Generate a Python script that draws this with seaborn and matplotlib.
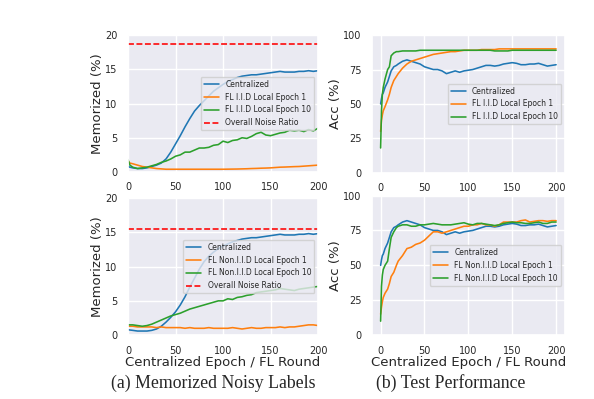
import numpy as np
import pandas as pd
import seaborn as sns
import matplotlib.pyplot as plt

mem_epochs = [0, 2, 5, 10, 15, 20, 25, 30, 35, 40, 45, 50, 55, 60, 65, 70, 75, 80, 85, 90, 95,
              100, 105, 110, 115, 120, 125, 130, 135, 140, 145, 150, 155, 160, 165, 170, 175,
              180, 185, 190, 195, 200]
acc_epochs = [0, 1, 2, 3, 5, 8, 10, 12, 15, 18, 20, 25, 30, 35, 40, 45, 50, 55, 60, 65, 70, 75,
              80, 85, 90, 95, 100, 105, 110, 115, 120, 125, 130, 135, 140, 145, 150, 155, 160,
              165, 170, 175, 180, 185, 190, 195, 200]

# --- memorized noisy labels (%) ---
mem_central_iid = [0.8, 0.7, 0.6, 0.5, 0.5, 0.6, 0.8, 1.0, 1.3, 1.9, 2.9, 4.1, 5.3, 6.6, 7.8, 8.9,
                   9.7, 10.4, 11.1, 11.8, 12.3, 12.8, 13.2, 13.5, 13.8, 14.0, 14.1, 14.2, 14.2,
                   14.3, 14.4, 14.5, 14.6, 14.7, 14.6, 14.6, 14.6, 14.7, 14.7, 14.8, 14.7, 14.8]
mem_fl1_iid = [1.6, 1.3, 1.2, 1.0, 0.8, 0.7, 0.6, 0.5, 0.45, 0.4, 0.4, 0.4, 0.4, 0.4, 0.4, 0.4,
               0.4, 0.4, 0.4, 0.4, 0.4, 0.4, 0.41, 0.42, 0.43, 0.45, 0.47, 0.5, 0.52, 0.55, 0.57,
               0.6, 0.65, 0.7, 0.72, 0.75, 0.78, 0.8, 0.85, 0.9, 0.95, 1.0]
mem_fl10_iid = [1.8, 1.0, 0.7, 0.5, 0.6, 0.7, 0.9, 1.1, 1.4, 1.6, 1.9, 2.3, 2.5, 2.9, 2.9, 3.2,
                3.5, 3.5, 3.6, 3.9, 4.0, 4.5, 4.3, 4.6, 4.7, 5.0, 4.9, 5.2, 5.6, 5.8, 5.4, 5.3,
                5.5, 5.7, 5.8, 6.1, 6.0, 6.1, 5.9, 6.2, 6.0, 6.4]
noise_ratio_iid = 18.7

mem_central_non = [0.8, 0.75, 0.7, 0.6, 0.6, 0.6, 0.7, 0.9, 1.3, 1.9, 2.6, 3.4, 4.4, 5.6, 7.0,
                   8.3, 9.6, 10.7, 11.5, 12.1, 12.6, 13.0, 13.3, 13.6, 13.8, 14.0, 14.1, 14.2,
                   14.2, 14.3, 14.4, 14.5, 14.6, 14.7, 14.6, 14.6, 14.6, 14.7, 14.7, 14.8, 14.7,
                   14.8]
mem_fl1_non = [1.3, 1.3, 1.3, 1.2, 1.2, 1.2, 1.2, 1.1, 1.2, 1.1, 1.1, 1.1, 1.1, 1.0, 1.1, 1.0,
               1.0, 1.0, 1.1, 1.0, 1.0, 1.0, 1.0, 1.1, 1.0, 0.9, 1.0, 1.1, 1.0, 1.0, 1.1, 1.1,
               1.1, 1.2, 1.1, 1.2, 1.2, 1.3, 1.4, 1.5, 1.5, 1.4]
mem_fl10_non = [1.5, 1.5, 1.5, 1.4, 1.3, 1.4, 1.6, 1.9, 2.2, 2.5, 2.8, 3.0, 3.2, 3.5, 3.8, 4.0,
                4.2, 4.4, 4.6, 4.8, 5.0, 5.0, 5.3, 5.2, 5.5, 5.6, 5.8, 5.9, 6.2, 6.3, 6.4, 6.5,
                6.6, 6.8, 6.7, 6.6, 6.5, 6.7, 6.8, 6.9, 7.0, 7.1]
noise_ratio_non = 15.4

# --- test accuracy (%) ---
acc_central = [50, 54, 57, 58, 62, 66, 70, 74, 77, 78, 79, 81, 82, 81, 80, 79, 77, 76, 75, 75, 74,
               72, 73, 74, 73, 74, 74.5, 75, 76, 77, 78, 78, 77.5, 78, 79, 79.5, 80, 79.5, 78.5,
               78.5, 79, 79, 79.5, 78.5, 77.5, 78, 78.5]
acc_fl1_iid = [30, 38, 42, 45, 48, 53, 57, 62, 67, 70, 72, 76, 79, 81, 82, 83, 84, 85, 86, 86.5,
               87, 87.5, 88, 88, 88.5, 89, 89, 89, 89, 89.5, 89.5, 89.5, 89.5, 90, 90, 90, 90, 90,
               90, 90, 90, 90, 90, 90, 90, 90, 90]
acc_fl10_iid = [18, 45, 57, 62, 68, 75, 77, 85, 87, 88, 88, 88.5, 88.5, 88.5, 88.5, 89, 89, 89,
                89, 89, 89, 89, 89, 89, 89, 89, 89, 89, 89, 89, 89, 89, 88.5, 88.5, 88.5, 88.5,
                89, 89, 89, 89, 89, 89, 89, 89, 89, 89, 89]
acc_fl1_non = [15, 20, 24, 27, 30, 33, 37, 42, 45, 50, 53, 57, 62, 63, 65, 66, 68, 71, 74, 74, 73,
               74, 75, 76, 77, 78, 78, 79, 79, 80, 79, 79, 78, 79, 81, 81, 81, 81, 82, 82.5, 81,
               81.5, 82, 82, 81.5, 82, 82]
acc_fl10_non = [10, 35, 43, 47, 50, 53, 62, 70, 74, 77, 78, 79, 79, 78, 78, 79, 79, 79.5, 80, 79.5,
                79, 79, 79, 79.5, 80, 80.5, 79.5, 79, 80, 80, 79.5, 79, 78.5, 79, 80, 80.5, 81,
                80.5, 80.5, 80, 80, 80.5, 81, 80, 80, 81, 81]

sns.set_theme(style="darkgrid")
plt.rcParams['font.family'] = ['DejaVu Sans']

blue, orange, green = '#1f77b4', '#ff7f0e', '#2ca02c'
lw = 1.15

fig = plt.figure(figsize=(5.94, 3.99), dpi=100)
ax_tl = fig.add_axes([0.2155, 0.569, 0.32, 0.343])
ax_tr = fig.add_axes([0.626, 0.567, 0.325, 0.345])
ax_bl = fig.add_axes([0.2155, 0.160, 0.32, 0.344])
ax_br = fig.add_axes([0.626, 0.160, 0.325, 0.350])


def mem_panel(ax, central, fl1, fl10, noise, tag):
    sns.lineplot(x=mem_epochs, y=central, ax=ax, color=blue, lw=lw, label='Centralized')
    sns.lineplot(x=mem_epochs, y=fl1, ax=ax, color=orange, lw=lw, label=f'FL {tag} Local Epoch 1')
    sns.lineplot(x=mem_epochs, y=fl10, ax=ax, color=green, lw=lw, label=f'FL {tag} Local Epoch 10')
    ax.axhline(noise, color='red', ls='--', lw=1.15, label='Overall Noise Ratio')
    ax.set_xlim(0, 200)
    ax.set_ylim(0, 20)
    ax.set_yticks([0, 5, 10, 15, 20])
    ax.set_ylabel('Memorized (%)', fontsize=9.5, labelpad=1)
    ax.legend(loc='center right', fontsize=5.5, framealpha=0.8)


def acc_panel(ax, fl1, fl10, tag):
    sns.lineplot(x=acc_epochs, y=acc_central, ax=ax, color=blue, lw=lw, label='Centralized')
    sns.lineplot(x=acc_epochs, y=fl1, ax=ax, color=orange, lw=lw, label=f'FL {tag} Local Epoch 1')
    sns.lineplot(x=acc_epochs, y=fl10, ax=ax, color=green, lw=lw, label=f'FL {tag} Local Epoch 10')
    ax.set_xlim(-10, 210)
    ax.set_ylim(0, 100)
    ax.set_yticks([0, 25, 50, 75, 100])
    ax.set_ylabel('Acc (%)', fontsize=9.5, labelpad=1)
    ax.legend(loc='center right', fontsize=5.5, framealpha=0.8)


mem_panel(ax_tl, mem_central_iid, mem_fl1_iid, mem_fl10_iid, noise_ratio_iid, 'I.I.D')
mem_panel(ax_bl, mem_central_non, mem_fl1_non, mem_fl10_non, noise_ratio_non, 'Non.I.I.D')
acc_panel(ax_tr, acc_fl1_iid, acc_fl10_iid, 'I.I.D')
acc_panel(ax_br, acc_fl1_non, acc_fl10_non, 'Non.I.I.D')

for ax in [ax_tl, ax_tr, ax_bl, ax_br]:
    ax.set_xticks([0, 50, 100, 150, 200])
    ax.tick_params(labelsize=7, pad=1.5)
    ax.set_xlabel('')
for ax in [ax_bl, ax_br]:
    ax.set_xlabel('Centralized Epoch / FL Round', fontsize=9.5, labelpad=0.5)

fig.text(0.359, 0.04, '(a) Memorized Noisy Labels', ha='center', va='center',
         fontsize=12.8, family='Liberation Serif')
fig.text(0.758, 0.04, '(b) Test Performance', ha='center', va='center',
         fontsize=12.8, family='Liberation Serif')

plt.savefig('out.png', dpi=100)
plt.close()
